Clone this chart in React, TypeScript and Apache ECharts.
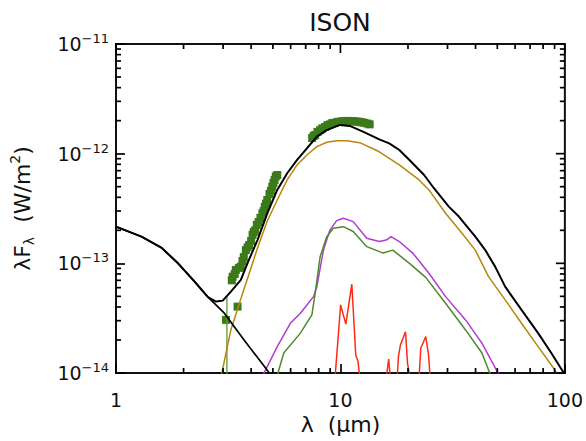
import React, { useEffect, useRef } from "react";
import * as echarts from "echarts";

// ---------- data (λ in µm, λFλ in W/m²) ----------
const X_MIN = 1;
const X_MAX = 100;
const Y_MIN = 1e-14;
const Y_MAX = 1e-11;

// total model (black, thick)
const totalLam = [1.0, 1.3, 1.6, 1.89, 2.24, 2.57, 2.79, 2.99, 3.25, 3.6, 3.85, 4.27, 4.72, 5.23, 5.79, 6.41, 7.09, 7.85, 8.69, 9.95, 11.0, 12.6, 14.9, 16.5, 18.3, 20.3, 23.6, 26.1, 30.4, 33.7, 39.9, 44.2, 48.9, 54.2, 64.1, 76.0, 87.0, 98.0, 100];
const totalF = [2.16e-13, 1.75e-13, 1.38e-13, 1.0e-13, 6.81e-14, 4.91e-14, 4.48e-14, 4.57e-14, 5.52e-14, 7.06e-14, 1.0e-13, 1.63e-13, 2.86e-13, 4.67e-13, 6.63e-13, 8.76e-13, 1.12e-12, 1.43e-12, 1.64e-12, 1.83e-12, 1.79e-12, 1.59e-12, 1.35e-12, 1.24e-12, 1.08e-12, 8.76e-13, 6.39e-13, 4.84e-13, 3.29e-13, 2.67e-13, 1.75e-13, 1.32e-13, 9.33e-14, 6.13e-14, 3.76e-14, 2.31e-14, 1.52e-14, 1.03e-14, 9.6e-15];

// stellar photosphere (black, thin)
const starLam = [1.0, 1.3, 1.6, 1.89, 2.24, 2.57, 3.04, 3.72, 4.64, 4.88];
const starF = [2.16e-13, 1.75e-13, 1.38e-13, 1.0e-13, 6.81e-14, 4.91e-14, 3.51e-14, 2.0e-14, 1.11e-14, 9.6e-15];

// gold component
const goldLam = [2.93, 3.25, 3.54, 3.72, 3.85, 4.27, 4.72, 5.23, 5.79, 6.41, 7.09, 7.85, 8.69, 9.62, 10.7, 12.2, 14.9, 18.3, 22.4, 24.8, 29.4, 34.8, 39.9, 45.7, 54.2, 64.1, 76.0, 90.1, 93.1];
const goldF = [9e-15, 2.47e-14, 4.27e-14, 5.84e-14, 7.21e-14, 1.38e-13, 2.43e-13, 3.78e-13, 5.76e-13, 7.89e-13, 9.73e-13, 1.16e-12, 1.27e-12, 1.31e-12, 1.31e-12, 1.26e-12, 1.04e-12, 7.89e-13, 5.76e-13, 4.67e-13, 2.86e-13, 1.88e-13, 1.32e-13, 7.56e-14, 4.64e-14, 2.84e-14, 1.74e-14, 1.07e-14, 9.6e-15];

// purple component
const purpleLam = [4.45, 5.23, 5.98, 6.63, 7.59, 7.85, 8.4, 8.99, 9.62, 10.3, 11.4, 13.1, 14.9, 16.0, 16.8, 18.3, 21.0, 24.8, 29.4, 36.1, 42.7, 50.9];
const purpleF = [9e-15, 1.74e-14, 2.84e-14, 3.51e-14, 4.97e-14, 6.13e-14, 1.32e-13, 2.02e-13, 2.45e-13, 2.58e-13, 2.4e-13, 1.69e-13, 1.58e-13, 1.63e-13, 1.75e-13, 1.58e-13, 1.24e-13, 8.13e-14, 4.97e-14, 3.05e-14, 1.87e-14, 9.6e-15];

// green component
const greenLam = [5.19, 5.59, 6.63, 7.46, 7.72, 8.12, 8.69, 9.29, 10.3, 11.4, 13.1, 15.5, 17.1, 20.3, 24.0, 29.4, 36.1, 42.7, 46.7];
const greenF = [9e-15, 1.52e-14, 2.31e-14, 3.39e-14, 5.34e-14, 1.15e-13, 1.75e-13, 2.09e-13, 2.16e-13, 1.95e-13, 1.42e-13, 1.24e-13, 1.32e-13, 1.0e-13, 7.44e-14, 4.33e-14, 2.47e-14, 1.52e-14, 9.5e-15];

// red component
const redLam = [9.46, 10.02, 10.57, 11.24, 11.7, 11.98, 12.2, 16.0, 16.4, 16.7, 17.9, 18.13, 18.5, 19.5, 19.9, 20.4, 22.4, 22.8, 24.0, 24.7, 25.1, 30.0];
const redF = [9e-15, 4.18e-14, 2.79e-14, 6.45e-14, 1.46e-14, 1.27e-14, 9e-15, 9e-15, 1.34e-14, 9e-15, 9e-15, 1.41e-14, 1.8e-14, 2.38e-14, 1.23e-14, 9e-15, 9e-15, 1.68e-14, 2.15e-14, 1.46e-14, 9e-15, 9e-15];

// observed spectrum (green squares)
const obsLam = [
  3.09, 3.48, 3.31, 3.28, 3.38, 3.42, 3.53, 3.6, 3.66, 3.71, 3.79, 3.86, 3.92, 4.0, 4.06, 4.11, 4.17, 4.24, 4.32, 4.4,
  4.49, 4.55, 4.6, 4.66, 4.72, 4.83, 4.9, 4.97, 5.03, 5.09, 5.15, 5.23,
  7.48, 7.6, 7.72, 7.9, 8.12, 8.3, 8.54, 8.75, 8.99, 9.2, 9.46, 9.7, 9.95, 10.2, 10.47, 10.7, 11.0, 11.3, 11.59, 11.9,
  12.2, 12.5, 12.8, 13.2, 13.5,
];
const obsF = [
  3.05e-14, 4.03e-14, 7.56e-14, 7.0e-14, 8.0e-14, 8.71e-14, 9.08e-14, 9.33e-14, 1.05e-13, 1.14e-13, 1.32e-13, 1.4e-13,
  1.47e-13, 1.6e-13, 1.82e-13, 1.93e-13, 2.0e-13, 2.24e-13, 2.38e-13, 2.6e-13,
  2.86e-13, 3.0e-13, 3.27e-13, 3.5e-13, 3.78e-13, 4.29e-13, 4.6e-13, 5.0e-13, 5.4e-13, 5.76e-13, 6.2e-13, 6.39e-13,
  1.39e-12, 1.45e-12, 1.48e-12, 1.58e-12, 1.64e-12, 1.7e-12, 1.75e-12, 1.82e-12, 1.85e-12, 1.9e-12, 1.91e-12, 1.95e-12,
  1.95e-12, 1.98e-12, 1.97e-12, 1.99e-12, 1.97e-12, 1.98e-12, 1.97e-12, 1.96e-12,
  1.95e-12, 1.93e-12, 1.91e-12, 1.88e-12, 1.85e-12,
];

// error bar of the shortest-wavelength point
const errLam = [3.12, 3.12];
const errF = [4.94e-14, 9e-15];

// tick values
const xMajorTicks = [1, 10, 100];
const xMinorTicks = [2, 3, 4, 5, 6, 7, 8, 9, 20, 30, 40, 50, 60, 70, 80, 90];
const yMajorTicks = [1e-14, 1e-13, 1e-12, 1e-11];
const yMinorTicks = [
  2e-14, 3e-14, 4e-14, 5e-14, 6e-14, 7e-14, 8e-14, 9e-14,
  2e-13, 3e-13, 4e-13, 5e-13, 6e-13, 7e-13, 8e-13, 9e-13,
  2e-12, 3e-12, 4e-12, 5e-12, 6e-12, 7e-12, 8e-12, 9e-12,
];

const FONT = "DejaVu Sans";
const INK = "#111";
const TICK_COLOR = "#000";
const MAJOR = 9;
const MINOR = 5;
const TW = 1.7;

const zip = (a: number[], b: number[]) => a.map((v, i) => [v, b[i]]);

// ticks drawn as custom line elements positioned through the axes' scales
const tickSeries = (values: number[], edge: "bottom" | "top" | "left" | "right", len: number) => {
  const horiz = edge === "bottom" || edge === "top";
  return {
    type: "custom",
    z: 30,
    clip: false,
    data: values.map((v) => (horiz ? [v, Y_MIN] : [X_MIN, v])),
    renderItem: (_p: any, api: any) => {
      if (horiz) {
        const v = api.value(0);
        const p = api.coord([v, edge === "bottom" ? Y_MIN : Y_MAX]);
        const d = edge === "bottom" ? -len : len;
        return {
          type: "line",
          shape: { x1: p[0], y1: p[1], x2: p[0], y2: p[1] + d },
          style: { stroke: TICK_COLOR, lineWidth: TW },
        };
      }
      const v = api.value(1);
      const p = api.coord([edge === "left" ? X_MIN : X_MAX, v]);
      const d = edge === "left" ? len : -len;
      return {
        type: "line",
        shape: { x1: p[0], y1: p[1], x2: p[0] + d, y2: p[1] },
        style: { stroke: TICK_COLOR, lineWidth: TW },
      };
    },
  };
};

export default function App() {
  const ref = useRef<HTMLDivElement>(null);

  useEffect(() => {
    if (!ref.current) return;
    const chart = echarts.init(ref.current, undefined, { renderer: "svg" });

    const lineSeries = (data: number[][], color: string, width: number, z: number) => ({
      type: "line",
      data,
      showSymbol: false,
      symbol: "none",
      clip: true,
      z,
      lineStyle: { color, width },
    });

    const option: any = {
      animation: false,
      grid: { left: 114, right: 19, top: 44, bottom: 68, show: true, borderColor: INK, borderWidth: 2 },
      graphic: [
        {
          type: "text",
          x: 340,
          y: 22,
          style: {
            text: "ISON",
            fontSize: 25,
            fontFamily: FONT,
            fill: INK,
            textAlign: "center",
            textVerticalAlign: "middle",
          },
        },
      ],
      xAxis: {
        type: "log",
        min: X_MIN,
        max: X_MAX,
        splitLine: { show: false },
        axisLine: { show: true, lineStyle: { color: INK, width: 2 } },
        axisTick: { show: true, inside: true, length: MAJOR, lineStyle: { color: TICK_COLOR, width: TW } },
        axisLabel: {
          margin: 17,
          fontSize: 19,
          fontFamily: FONT,
          color: INK,
          formatter: (v: number) => String(Math.round(v)),
        },
        name: "λ  (μm)",
        nameLocation: "middle",
        nameGap: 40,
        nameTextStyle: { fontSize: 22, fontFamily: FONT, color: INK },
      },
      yAxis: {
        type: "log",
        min: Y_MIN,
        max: Y_MAX,
        splitLine: { show: false },
        axisLine: { show: true, lineStyle: { color: INK, width: 2 } },
        axisTick: { show: true, inside: true, length: MAJOR, lineStyle: { color: TICK_COLOR, width: TW } },
        axisLabel: {
          margin: 7,
          color: INK,
          formatter: (v: number) => {
            const e = Math.round(Math.log10(v));
            return `{b|10}{s|−${-e}}`;
          },
          rich: {
            b: { fontSize: 19, fontFamily: FONT, color: INK, lineHeight: 24, verticalAlign: "middle" },
            s: { fontSize: 13, fontFamily: FONT, color: INK, lineHeight: 12, verticalAlign: "top" },
          },
        },
        name: "{a|λF}{d|λ}{a|  (W/m}{u|2}{a|)}",
        nameLocation: "middle",
        nameGap: 80,
        nameTextStyle: {
          rich: {
            a: { fontSize: 22, fontFamily: FONT, color: INK, lineHeight: 28, verticalAlign: "middle" },
            d: { fontSize: 14, fontFamily: FONT, color: INK, lineHeight: 14, verticalAlign: "bottom" },
            u: { fontSize: 14, fontFamily: FONT, color: INK, lineHeight: 14, verticalAlign: "top" },
          },
        },
      },
      series: [
        {
          type: "scatter",
          data: zip(obsLam, obsF),
          symbol: "rect",
          symbolSize: 8,
          z: 2,
          itemStyle: { color: "#3b7a1a", opacity: 1 },
        },
        lineSeries(zip(errLam, errF), "#5a9a3a", 1.3, 3),
        lineSeries(zip(goldLam, goldF), "#b8860b", 1.5, 4),
        lineSeries(zip(purpleLam, purpleF), "#b03ccc", 1.5, 5),
        lineSeries(zip(greenLam, greenF), "#4d8a2b", 1.5, 5),
        lineSeries(zip(redLam, redF), "#ff2a12", 1.5, 5),
        lineSeries(zip(starLam, starF), "#000", 1.7, 6),
        lineSeries(zip(totalLam, totalF), "#000", 2, 7),
        tickSeries(xMajorTicks, "top", MAJOR),
        tickSeries(xMinorTicks, "bottom", MINOR),
        tickSeries(xMinorTicks, "top", MINOR),
        tickSeries(yMajorTicks, "right", MAJOR),
        tickSeries(yMinorTicks, "left", MINOR),
        tickSeries(yMinorTicks, "right", MINOR),
      ],
    };

    chart.setOption(option);
    return () => chart.dispose();
  }, []);

  return (
    <div
      ref={ref}
      style={{ position: "fixed", left: 0, top: 0, width: 586, height: 441, background: "#fff" }}
    />
  );
}
